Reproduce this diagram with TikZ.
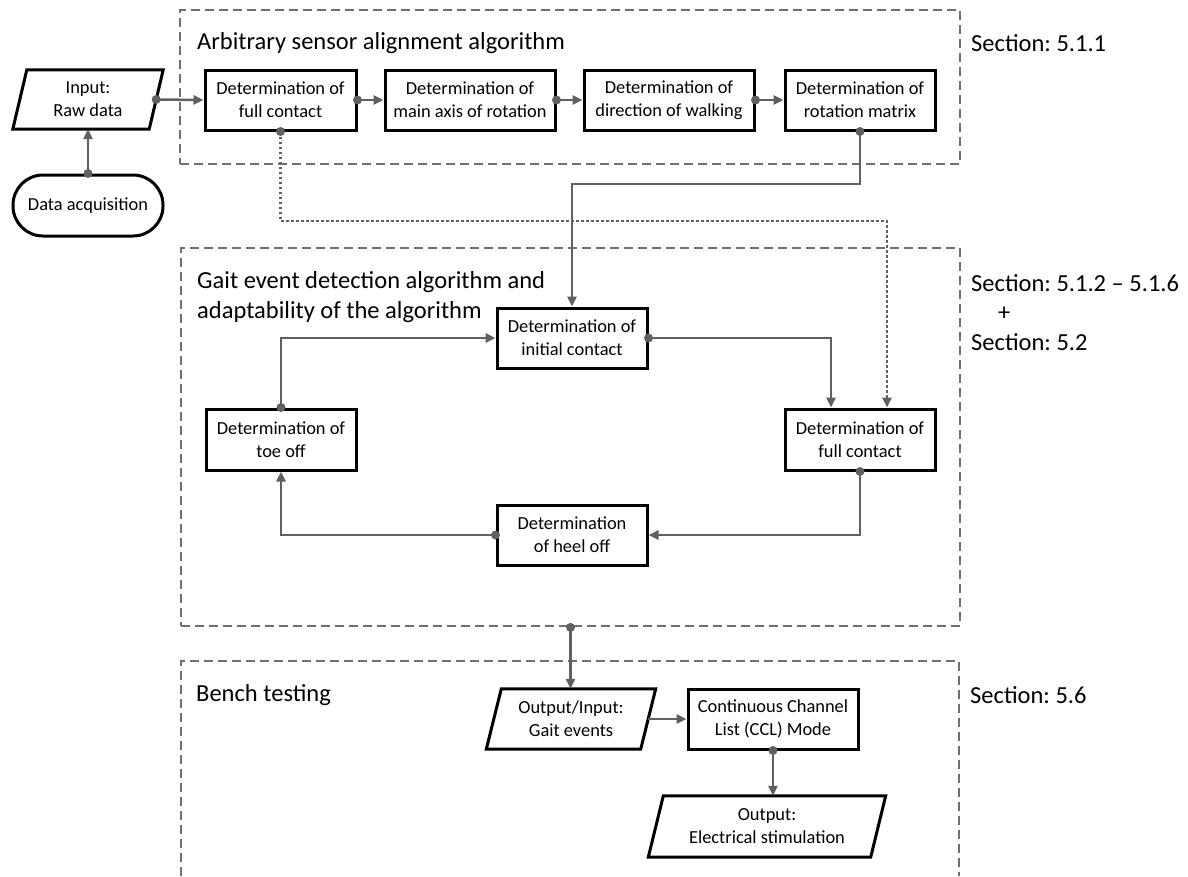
\documentclass[tikz,border=0pt]{standalone}
\usepackage{fontspec}
\setmainfont{Carlito}
\usetikzlibrary{arrows.meta,calc}
\definecolor{conn}{RGB}{96,96,96}
\definecolor{dashc}{RGB}{112,112,112}
\begin{document}
\frenchspacing
\begin{tikzpicture}[x=1pt,y=-1pt,
  box/.style={draw=black, line width=3pt, minimum width=150pt, minimum height=60pt, inner sep=0pt, align=center, font=\fontsize{18.4}{23}\selectfont},
  ptext/.style={draw=none, inner sep=0pt, align=center, font=\fontsize{18.4}{23}\selectfont},
  pshape/.style={draw=black, line width=3pt, line join=miter},
  group/.style={draw=dashc, line width=2.8pt, dash pattern=on 9pt off 5pt, inner sep=0pt},
  big/.style={inner sep=0pt, align=left, font=\fontsize{24.5}{29.5}\selectfont, anchor=west},
  link/.style={draw=conn, line width=2.5pt, -{Triangle[length=10pt,width=9pt]}},
  dotl/.style={link, dash pattern=on 2.5pt off 2.5pt},
  dot/.style={fill=conn},
]
\useasboundingbox (0,0) rectangle (1188,876);

% groups
\node[group, minimum width=780pt, minimum height=154pt] (g1) at (570,87) {};
\node[group, minimum width=779pt, minimum height=378pt] (g2) at (570.5,437) {};
\draw[group] (181,876) -- (181,661) -- (959,661) -- (959,876);

% labels
\node[big] (t1) at (197,43) {Arbitrary sensor alignment algorithm};
\node[big] (s1) at (971,43) {Section: 5.1.1};
\node[big] (t2) at (197,297) {Gait event detection algorithm and\\adaptability of the algorithm};
\node[big] (s2) at (971,312.5) {Section: 5.1.2 – 5.1.6\\\hspace*{27pt}+\\Section: 5.2};
\node[big] (t3) at (196,695) {Bench testing};
\node[big] (s3) at (970,695) {Section: 5.6};

% top row
\node[ptext, minimum width=136pt, minimum height=59pt] (in) at (88,99.5) {Input:\\Raw data};
\draw[pshape] ($(in.south west)+(-7,0)$) -- ($(in.north west)+(7,0)$) -- ($(in.north east)+(7,0)$) -- ($(in.south east)+(-7,0)$) -- cycle;
\node[box, rounded corners=30pt, minimum width=150pt, minimum height=61pt] (da) at (88,205.5) {Data acquisition};
\node[box, minimum width=151pt] (b1) at (280.5,100) {Determination of\\full contact};
\node[box, minimum width=170pt] (b2) at (470,100) {Determination of\\main axis of rotation};
\node[box, minimum width=170pt] (b3) at (669,100) {Determination of\\direction of walking};
\node[box] (b4) at (860,100) {Determination of\\rotation matrix};

% middle
\node[box] (ic) at (572,338) {Determination of\\initial contact};
\node[box, minimum height=61pt] (fc) at (860,439.5) {Determination of\\full contact};
\node[box, minimum height=61pt] (to) at (281,439.5) {Determination of\\toe off};
\node[box] (ho) at (572,535) {Determination\\of heel off};

% bench
\node[ptext, minimum width=154pt, minimum height=60pt] (oi) at (571,719) {Output/Input:\\Gait events};
\draw[pshape] ($(oi.south west)+(-7.5,0)$) -- ($(oi.north west)+(7.5,0)$) -- ($(oi.north east)+(7.5,0)$) -- ($(oi.south east)+(-7.5,0)$) -- cycle;
\node[box, minimum width=170pt] (ccl) at (773,719) {Continuous Channel\\List (CCL) Mode};
\node[ptext, minimum width=222pt, minimum height=61pt] (out) at (767,826.5) {Output:\\Electrical stimulation};
\draw[pshape] ($(out.south west)+(-7.5,0)$) -- ($(out.north west)+(7.5,0)$) -- ($(out.north east)+(7.5,0)$) -- ($(out.south east)+(-7.5,0)$) -- cycle;

% connectors
\coordinate (j1) at (572,184);
\coordinate (j2) at (887,221);
\draw[link] (in.east) -- (b1.west);
\draw[link] (b1.east) -- (b2.west);
\draw[link] (b2.east) -- (b3.west);
\draw[link] (b3.east) -- (b4.west);
\draw[link] (da.north) -- (in.south);
\draw[link] (b4.south) |- (j1) -- (ic.north);
\draw[dotl] (b1.south) |- (j2) -- (j2 |- fc.north);
\draw[link] (to.north) |- (ic.west);
\draw[link] (ic.east) -| ([xshift=-29pt]fc.north);
\draw[link] (fc.south) |- (ho.east);
\draw[link] (ho.west) -| (to.south);
\draw[link] (g2.south) -- (g2.south |- oi.north);
\draw[link] (oi.east) -- (ccl.west);
\draw[link] (ccl.south) -- (ccl.south |- out.north);

% dots
\foreach \p in {in.east,b1.east,b2.east,b3.east,da.north,b4.south,b1.south,to.north,ic.east,fc.south,ho.west,g2.south,ccl.south}
  \fill[dot] (\p) circle[radius=4.5pt];
\end{tikzpicture}
\end{document}
